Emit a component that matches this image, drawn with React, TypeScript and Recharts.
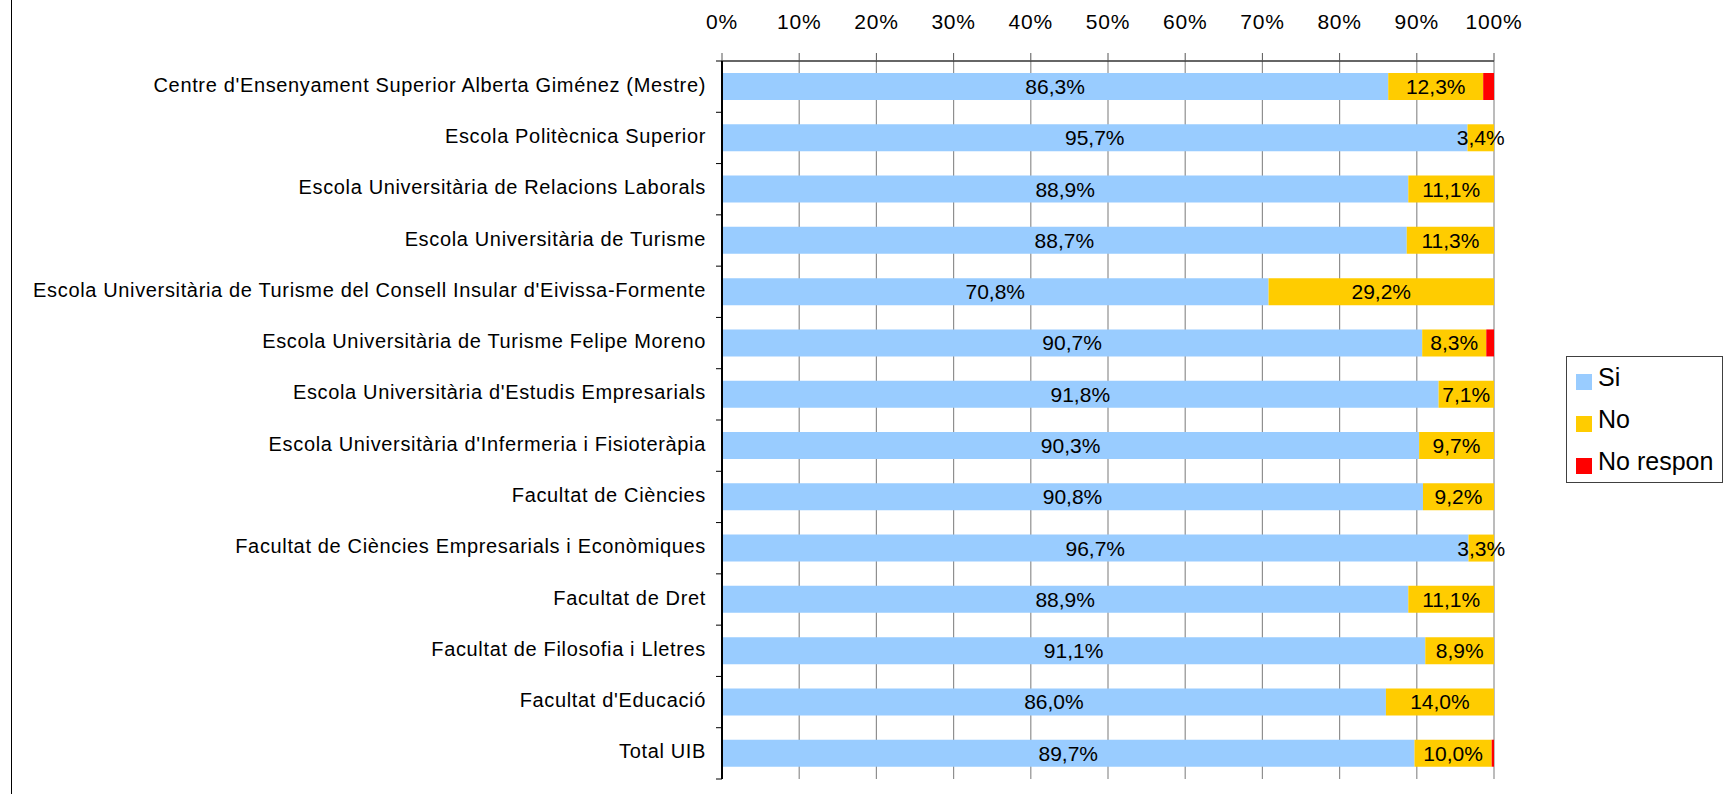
import React from 'react';
import { BarChart, Bar, XAxis, YAxis, CartesianGrid, LabelList } from 'recharts';

const categories = [
  "Centre d'Ensenyament Superior Alberta Giménez (Mestre)",
  'Escola Politècnica Superior',
  'Escola Universitària de Relacions Laborals',
  'Escola Universitària de Turisme',
  "Escola Universitària de Turisme del Consell Insular d'Eivissa-Formente",
  'Escola Universitària de Turisme Felipe Moreno',
  "Escola Universitària d'Estudis Empresarials",
  "Escola Universitària d'Infermeria i Fisioteràpia",
  'Facultat de Ciències',
  'Facultat de Ciències Empresarials i Econòmiques',
  'Facultat de Dret',
  'Facultat de Filosofia i Lletres',
  "Facultat d'Educació",
  'Total UIB',
];
const siValues = [86.3, 95.7, 88.9, 88.7, 70.8, 90.7, 91.8, 90.3, 90.8, 96.7, 88.9, 91.1, 86.0, 89.7];
const noValues = [12.3, 3.4, 11.1, 11.3, 29.2, 8.3, 7.1, 9.7, 9.2, 3.3, 11.1, 8.9, 14.0, 10.0];
const noResponValues = [1.4, 0, 0, 0, 0, 1.0, 0, 0, 0, 0, 0, 0, 0, 0.3];
const xTickLabels = [0, 10, 20, 30, 40, 50, 60, 70, 80, 90, 100];
const seriesNames = ['Si', 'No', 'No respon'];
const seriesKeys = ['si', 'no', 'nr'];
const seriesColors = ['#99CCFF', '#FFCC00', '#FF0000'];

const data = categories.map((name, i) => ({
  name,
  si: siValues[i],
  no: noValues[i],
  nr: noResponValues[i],
}));

const CHART_W = 1724;
const CHART_H = 794;
const MARGIN = { top: 0, right: 230, bottom: 15, left: 0 };
const X_AXIS_H = 61;
const Y_AXIS_W = 722;
const Y_TICK_GAP = 16;
const Y_TICK_LEN = 6;
const BAND = (CHART_H - MARGIN.top - MARGIN.bottom - X_AXIS_H) / categories.length;
const FONT = "'Liberation Sans', Arial, Helvetica, sans-serif";

const fmt = (v: any) => `${Number(v).toFixed(1).replace('.', ',')}%`;

function YTick(props: any) {
  const { x, y, payload, index } = props;
  const lx1 = x + Y_TICK_GAP - Y_TICK_LEN;
  const lx2 = x + Y_TICK_GAP;
  return (
    <g>
      <text
        x={x}
        y={y}
        dy={5}
        textAnchor="end"
        fontSize={20}
        fill="#000"
        fontFamily={FONT}
        letterSpacing={0.65}
      >
        {payload.value}
      </text>
      <line x1={lx1} x2={lx2} y1={y - BAND / 2} y2={y - BAND / 2} stroke="#000" strokeWidth={1} />
      {index === categories.length - 1 && (
        <line x1={lx1} x2={lx2} y1={y + BAND / 2} y2={y + BAND / 2} stroke="#000" strokeWidth={1} />
      )}
    </g>
  );
}

export default function App() {
  return (
    <div
      style={{
        position: 'absolute',
        left: 0,
        top: 0,
        width: CHART_W,
        height: CHART_H,
        background: '#fff',
        fontFamily: FONT,
        overflow: 'hidden',
      }}
    >
      <div style={{ position: 'absolute', left: 11, top: 0, width: 1, height: CHART_H, background: '#000' }} />
      <BarChart
        width={CHART_W}
        height={CHART_H}
        data={data}
        layout="vertical"
        stackOffset="expand"
        margin={MARGIN}
        barSize={27}
      >
        <CartesianGrid horizontal={false} vertical={true} stroke="#8f8f8f" strokeWidth={1.2} />
        <XAxis
          type="number"
          orientation="top"
          domain={[0, 1]}
          ticks={xTickLabels.map((t) => t / 100)}
          tickFormatter={(v: number) => `${Math.round(v * 100)}%`}
          height={X_AXIS_H}
          tickSize={8}
          tickMargin={24}
          axisLine={{ stroke: '#333', strokeWidth: 1.5 }}
          tickLine={{ stroke: '#555' }}
          tick={{ fill: '#000', fontSize: 21, fontFamily: FONT, letterSpacing: 0.8 }}
          interval={0}
          allowDataOverflow
        />
        <XAxis
          xAxisId="b"
          type="number"
          orientation="bottom"
          domain={[0, 1]}
          height={0}
          tick={false}
          tickLine={false}
          axisLine={{ stroke: '#999', strokeWidth: 2 }}
        />
        <YAxis
          type="category"
          dataKey="name"
          width={Y_AXIS_W}
          tickLine={false}
          tickSize={0}
          tickMargin={Y_TICK_GAP}
          axisLine={{ stroke: '#000', strokeWidth: 2 }}
          interval={0}
          tick={YTick}
        />
        {seriesKeys.map((k, i) => (
          <Bar
            key={k}
            dataKey={k}
            name={seriesNames[i]}
            stackId="a"
            fill={seriesColors[i]}
            isAnimationActive={false}
          >
            {i < 2 && (
              <LabelList
                dataKey={k}
                position="center"
                formatter={fmt}
                fill="#000"
                fontSize={21}
                fontFamily={FONT}
              />
            )}
          </Bar>
        ))}
      </BarChart>
      <div
        style={{
          position: 'absolute',
          left: 1566,
          top: 356,
          width: 157,
          height: 127,
          border: '1px solid #404040',
          boxSizing: 'border-box',
          paddingTop: 0,
        }}
      >
        {seriesNames.map((n, i) => (
          <div
            key={n}
            style={{
              position: 'absolute',
              left: 9,
              top: -1 + i * 42,
              height: 42,
              display: 'flex',
              alignItems: 'center',
              fontSize: 25,
              color: '#000',
              whiteSpace: 'nowrap',
            }}
          >
            <span
              style={{
                display: 'inline-block',
                width: 16,
                height: 16,
                background: seriesColors[i],
                position: 'relative',
                top: 5,
                marginRight: 6,
              }}
            />
            <span>{n}</span>
          </div>
        ))}
      </div>
    </div>
  );
}
